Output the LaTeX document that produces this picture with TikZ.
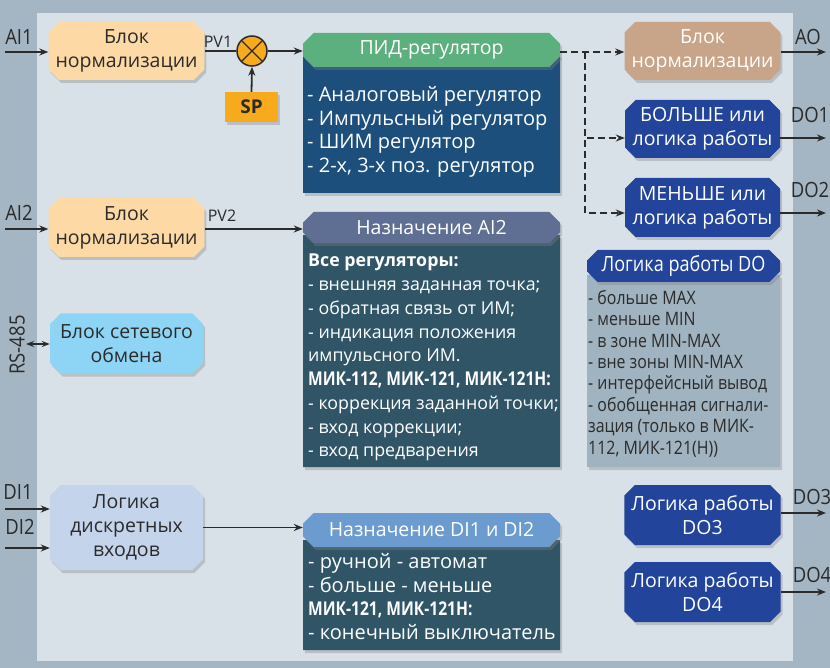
\documentclass[tikz,border=0pt]{standalone}
\usepackage{fontspec}
\setmainfont{Open Sans}
\newfontfamily\condfont[FakeStretch=0.82]{Open Sans}
\newfontfamily\lblfont[FakeStretch=0.88]{Open Sans}
\newfontfamily\dofont[FakeStretch=0.86]{Open Sans}
\usetikzlibrary{shapes.misc,shadows,arrows.meta,calc}
\definecolor{outerbg}{HTML}{A4B6C3}
\definecolor{innerbg}{HTML}{D9E1E8}
\definecolor{peach}{HTML}{FDD9A6}
\definecolor{orng}{HTML}{F7AA1C}
\definecolor{greenh}{HTML}{5CB07E}
\definecolor{pidblue}{HTML}{1C4F7C}
\definecolor{slateh}{HTML}{5F6F94}
\definecolor{tealbody}{HTML}{2F5567}
\definecolor{dih}{HTML}{6C9CCF}
\definecolor{tan}{HTML}{C8A488}
\definecolor{dkblue}{HTML}{22449B}
\definecolor{ltblue}{HTML}{8ED5F5}
\definecolor{dilog}{HTML}{C3D4EB}
\definecolor{dobody}{HTML}{A0B3C0}
\definecolor{txt}{HTML}{2B2B2B}
\begin{document}
\begin{tikzpicture}[x=1pt,y=-1pt,
  box/.style={chamfered rectangle, chamfered rectangle xsep=7pt, inner sep=0pt, align=center,
    font=\fontsize{19.5}{24}\selectfont, text=txt,
    drop shadow={opacity=0.35, shadow xshift=2pt, shadow yshift=-3pt}},
  hdr/.style={box, text=white},
  bodytext/.style={anchor=north west, inner sep=0pt, align=left, text=white},
  lbl/.style={font=\lblfont\fontsize{21}{24}\selectfont, text=txt, inner sep=0pt},
  pvl/.style={font=\fontsize{16}{18}\selectfont, text=txt, inner sep=0pt},
  conn/.style={line width=1.8pt, draw=txt, -{Stealth[length=9pt,width=7pt]}},
  dconn/.style={conn, dash pattern=on 7pt off 4pt}]
\useasboundingbox (0,0) rectangle (830,668);
\fill[outerbg] (0,0) rectangle (830,668);
\fill[innerbg] (37,13) rectangle (793,661);

% left column
\node[box, fill=peach, minimum width=153pt, minimum height=58pt] (norm1) at (126.5,51) {Блок\\нормализации};
\node[box, fill=peach, minimum width=153pt, minimum height=59pt] (norm2) at (126.5,227.5) {Блок\\нормализации};
\node[box, fill=ltblue, minimum width=153pt, minimum height=60pt] (net) at (126.5,343.5) {Блок сетевого\\обмена};
\node[box, fill=dilog, minimum width=153pt, minimum height=85pt] (dilogic) at (126.5,527.5) {Логика\\дискретных\\входов};

% summing junction and SP
\node[circle, fill=orng, draw=txt, line width=1.5pt, minimum size=30pt, inner sep=0pt] (sum) at (252,51) {};
\draw[txt, line width=1.3pt] ($(sum.center)+(-10.6,-10.6)$) -- ($(sum.center)+(10.6,10.6)$)
  ($(sum.center)+(-10.6,10.6)$) -- ($(sum.center)+(10.6,-10.6)$);
\node[rectangle, fill=orng, minimum width=53pt, minimum height=30pt, inner sep=0pt,
  font=\bfseries\fontsize{19}{22}\selectfont, text=txt,
  drop shadow={opacity=0.35, shadow xshift=2pt, shadow yshift=-3pt}] (sp) at (251.5,107) {SP};

% PID
\node[box, fill=pidblue, minimum width=257pt, minimum height=138pt] (pidbody) at (431.5,124) {};
\node[hdr, fill=greenh, minimum width=257pt, minimum height=34pt] (pidhead) at (431.5,50) {ПИД-регулятор};
\node[bodytext, font=\fontsize{20}{23.7}\selectfont] (pidtext) at (307,86)
  {- Аналоговый регулятор\\- Импульсный регулятор\\- ШИМ регулятор\\- 2-х, 3-х поз. регулятор};

% AI2 purpose
\node[box, fill=tealbody, minimum width=257pt, minimum height=232pt] (ai2body) at (431.5,351) {};
\node[hdr, fill=slateh, minimum width=257pt, minimum height=31pt] (ai2head) at (431.5,227.5) {Назначение AI2};
\node[bodytext, font=\fontsize{17.8}{23.75}\selectfont] (ai2text) at (308,254)
  {\textbf{Все регуляторы:}\\- внешняя заданная точка;\\- обратная связь от ИМ;\\- индикация положения\\импульсного ИМ.\\{\condfont\bfseries\fontsize{19}{23.75}\selectfont МИК-112, МИК-121, МИК-121Н:}\\- коррекция заданной точки;\\- вход коррекции;\\- вход предварения};

% DI purpose
\node[box, fill=tealbody, minimum width=257pt, minimum height=110pt] (dibody) at (431.5,595) {};
\node[hdr, fill=dih, minimum width=257pt, minimum height=34pt] (dihead) at (431.5,530) {Назначение DI1 и DI2};
\node[bodytext, font=\fontsize{20}{23.7}\selectfont] (ditext) at (308,553)
  {- ручной - автомат\\- больше - меньше\\{\condfont\bfseries\fontsize{19}{23.7}\selectfont МИК-121, МИК-121Н:}\\- конечный выключатель};

% right column
\node[box, fill=tan, text=white, minimum width=155pt, minimum height=58pt] (normao) at (702.5,51) {Блок\\нормализации};
\node[box, fill=dkblue, text=white, minimum width=155pt, minimum height=58pt] (bolshe) at (702.5,129) {БОЛЬШЕ или\\логика работы};
\node[box, fill=dkblue, text=white, minimum width=155pt, minimum height=59pt] (menshe) at (702.5,207.5) {МЕНЬШЕ или\\логика работы};

\node[box, fill=dobody, minimum width=193pt, minimum height=192pt] (dobodyn) at (683.5,371) {};
\node[hdr, fill=dkblue, minimum width=193pt, minimum height=32pt, font=\dofont\fontsize{21}{24}\selectfont] (dohead) at (683.5,266) {Логика работы DO};
\node[bodytext, text=txt, font=\dofont\fontsize{18.5}{21.4}\selectfont] (dotext) at (588,290)
  {- больше MAX\\- меньше MIN\\- в зоне MIN-MAX\\- вне зоны MIN-MAX\\- интерфейсный вывод\\- обобщенная сигнали-\\зация (только в МИК-\\112, МИК-121(Н))};

\node[box, fill=dkblue, text=white, minimum width=155pt, minimum height=60pt] (do3) at (702.5,515) {Логика работы\\DO3};
\node[box, fill=dkblue, text=white, minimum width=155pt, minimum height=60pt] (do4) at (702.5,592) {Логика работы\\DO4};

% labels
\node[lbl] (lai1) at (19,37) {AI1};
\node[lbl] (lai2) at (19,213) {AI2};
\node[lbl] (ldi1) at (18,492) {DI1};
\node[lbl] (ldi2) at (20,527) {DI2};
\node[lbl, rotate=90] (lrs) at (17,345) {RS-485};
\node[pvl] (lpv1) at (218,42) {PV1};
\node[pvl] (lpv2) at (222,216) {PV2};
\node[lbl] (lao) at (808,37) {AO};
\node[lbl] (ldo1) at (810,115) {DO1};
\node[lbl] (ldo2) at (810,190) {DO2};
\node[lbl] (ldo3) at (812,497) {DO3};
\node[lbl] (ldo4) at (812,575) {DO4};

% free ends
\coordinate (ai1in) at (5,52);
\coordinate (ai2in) at (5,229);
\coordinate (di1in) at (5,509);
\coordinate (di2in) at (5,548);
\coordinate (rsend) at (26,344);
\coordinate (aoout) at (826,52);
\coordinate (do1out) at (826,138);
\coordinate (do2out) at (826,213);
\coordinate (do3out) at (826,513);
\coordinate (do4out) at (826,592);
\coordinate (split) at (585,52);

% connectors
\draw[conn] (ai1in) -- (ai1in -| norm1.west);
\draw[conn] (ai2in) -- (ai2in -| norm2.west);
\draw[conn] (di1in) -- (di1in -| dilogic.west);
\draw[conn] (di2in) -- (di2in -| dilogic.west);
\draw[conn, {Stealth[length=8pt,width=6pt]}-{Stealth[length=8pt,width=6pt]}] (rsend) -- (rsend -| net.west);
\draw[line width=1.8pt, draw=txt] (norm1.east |- sum.west) -- (sum.west);
\draw[conn] (sp.north) -- (sum.south);
\draw[conn] (sum.east) -- (pidhead.west |- sum.east);
\draw[conn] (norm2.east |- ai2in) -- (ai2head.west |- ai2in);
\draw[conn] (dilogic.east) -- (dihead.west |- dilogic.east);
\draw[dconn] (pidhead.east |- split) -- (normao.west |- split);
\draw[dconn] (split) |- (bolshe.west |- do1out);
\draw[dconn] (split) |- (menshe.west |- do2out);
\draw[conn] (normao.east |- aoout) -- (aoout);
\draw[conn] (bolshe.east |- do1out) -- (do1out);
\draw[conn] (menshe.east |- do2out) -- (do2out);
\draw[conn] (do3.east |- do3out) -- (do3out);
\draw[conn] (do4.east |- do4out) -- (do4out);
\end{tikzpicture}
\end{document}
